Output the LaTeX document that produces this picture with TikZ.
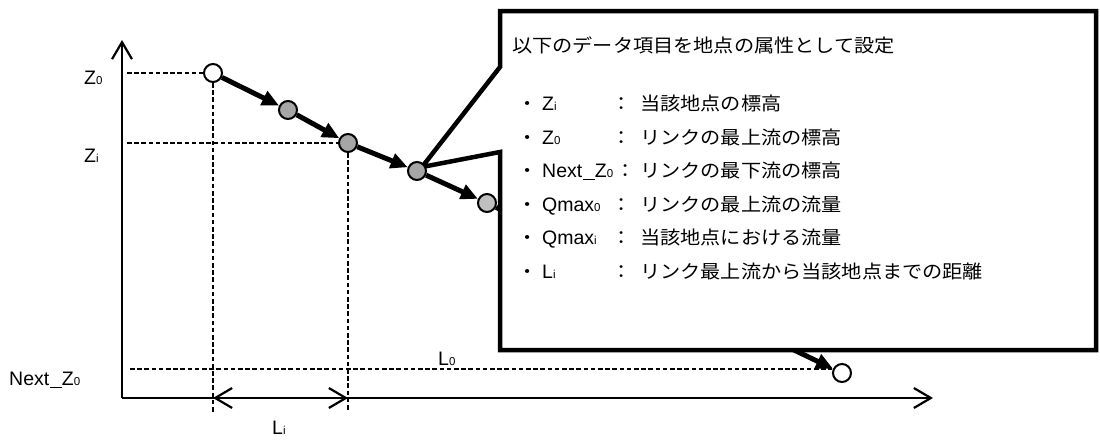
\documentclass[tikz,border=0pt]{standalone}
\usepackage{fontspec}
\setmainfont{Liberation Sans}
\newfontfamily\jp{Noto Sans CJK JP}
\usetikzlibrary{arrows.meta}
\newcommand{\sx}[1]{\scalebox{1.09}[1]{#1}}
\newcommand{\sbs}[1]{{\fontsize{11.5pt}{11.5pt}\selectfont #1}}
\newcommand{\wus}{\kern0.3pt\rule[-3pt]{12pt}{1.4pt}\kern0.3pt}
\pgfdeclarelayer{under}
\pgfdeclarelayer{callout}
\pgfsetlayers{under,callout,main}
\tikzset{
  axis/.style={line width=2.2pt, -{Straight Barb[length=17pt,width=20pt]}},
  dimline/.style={line width=2.2pt, {Straight Barb[length=17pt,width=20pt]}-{Straight Barb[length=17pt,width=20pt]}},
  dashedline/.style={line width=1.4pt, dash pattern=on 4.5pt off 2.7pt},
  flow/.style={line width=5pt, -{Triangle[length=17pt,width=15pt]}},
  pt/.style={circle, draw, line width=2pt, minimum size=18pt, inner sep=0pt},
  lbl/.style={inner sep=0pt, anchor=base west, font=\fontsize{19.5pt}{19.5pt}\selectfont},
  jpt/.style={inner sep=0pt, anchor=base west, font=\jp\fontsize{18.5pt}{18.5pt}\selectfont},
  jpc/.style={inner sep=0pt, anchor=base, font=\jp\fontsize{18.5pt}{18.5pt}\selectfont},
  callbox/.style={line width=4.5pt, fill=white, line join=miter}
}
\begin{document}
\begin{tikzpicture}[x=1pt,y=-1pt]
\begin{pgfonlayer}{under}
\fill[white] (0,0) rectangle (1100,439);
\end{pgfonlayer}
\useasboundingbox (0,0) rectangle (1100,439);

% points
\node[pt, fill=white] (n0) at (213,73) {};
\node[pt, fill=black!35] (n1) at (288,110) {};
\node[pt, fill=black!35] (n2) at (348,143) {};
\node[pt, fill=black!35] (n3) at (417,171) {};
\node[pt, fill=white] (n5) at (842,373) {};

% axes and guide coordinates
\coordinate (O) at (122,398);
\coordinate (ytip) at (122,40);
\coordinate (xtip) at (933,398);
\coordinate (z0a) at (127,73);
\coordinate (zia) at (127,143);
\coordinate (nza) at (130,369);
\coordinate (v0) at (213,412);
\coordinate (v2) at (348,412);
\coordinate (tip) at (422,167);

% dashed guides
\draw[dashedline] (z0a) -- (n0);
\draw[dashedline] (zia) -- (n2);
\draw[dashedline] (nza) -- (nza -| n5.west);
\draw[dashedline] (n0) -- (v0);
\draw[dashedline] (n2) -- (v2);

% axes
\draw[axis] (O) -- (ytip);
\draw[axis] (O) -- (xtip);
\draw[dimline] (n0 |- O) -- (n2 |- O);

% flow arrows
\draw[flow] (n0) -- (n1);
\draw[flow] (n1) -- (n2);
\draw[flow] (n2) -- (n3);

\begin{pgfonlayer}{under}
\node[pt, fill=black!25] (n4) at (487,203) {};
\draw[flow] (n3) -- (n4);
\draw[flow] (n4) -- (n5);
\end{pgfonlayer}

% callout
\begin{pgfonlayer}{callout}
\draw[callbox] (500,152) -- (tip) -- (500,67) -- (500,11) -- (1096,11) -- (1096,350) -- (500,350) -- cycle;
\end{pgfonlayer}

% axis labels
\node[lbl] (lz0) at (84,84) {Z\sbs{0}};
\node[lbl] (lzi) at (84,162) {Z\sbs{i}};
\node[lbl] (lnz) at (9,385) {Next\wus Z\sbs{0}};
\node[lbl] (ll0) at (438,365) {L\sbs{0}};
\node[lbl] (lli) at (272,434) {L\sbs{i}};

% callout text
\node[jpt] (head) at (512,52) {\sx{以下のデータ項目を地点の属性として設定}};

\node[jpt] (b1) at (517,110) {\sx{・}};
\node[lbl] (k1) at (542,110) {Z\sbs{i}};
\node[jpc] (c1) at (622,110) {\sx{：}};
\node[jpt] (t1) at (640,110) {\sx{当該地点の標高}};

\node[jpt] (b2) at (517,144) {\sx{・}};
\node[lbl] (k2) at (542,144) {Z\sbs{0}};
\node[jpc] (c2) at (622,144) {\sx{：}};
\node[jpt] (t2) at (640,144) {\sx{リンクの最上流の標高}};

\node[jpt] (b3) at (517,177) {\sx{・}};
\node[lbl] (k3) at (542,177) {Next\wus Z\sbs{0}};
\node[jpc] (c3) at (626,177) {\sx{：}};
\node[jpt] (t3) at (640,177) {\sx{リンクの最下流の標高}};

\node[jpt] (b4) at (517,211) {\sx{・}};
\node[lbl] (k4) at (542,211) {Qmax\sbs{0}};
\node[jpc] (c4) at (622,211) {\sx{：}};
\node[jpt] (t4) at (640,211) {\sx{リンクの最上流の流量}};

\node[jpt] (b5) at (517,244) {\sx{・}};
\node[lbl] (k5) at (542,244) {Qmax\sbs{i}};
\node[jpc] (c5) at (622,244) {\sx{：}};
\node[jpt] (t5) at (640,244) {\sx{当該地点における流量}};

\node[jpt] (b6) at (517,278) {\sx{・}};
\node[lbl] (k6) at (542,278) {L\sbs{i}};
\node[jpc] (c6) at (622,278) {\sx{：}};
\node[jpt] (t6) at (640,278) {\sx{リンク最上流から当該地点までの距離}};
\end{tikzpicture}
\end{document}
